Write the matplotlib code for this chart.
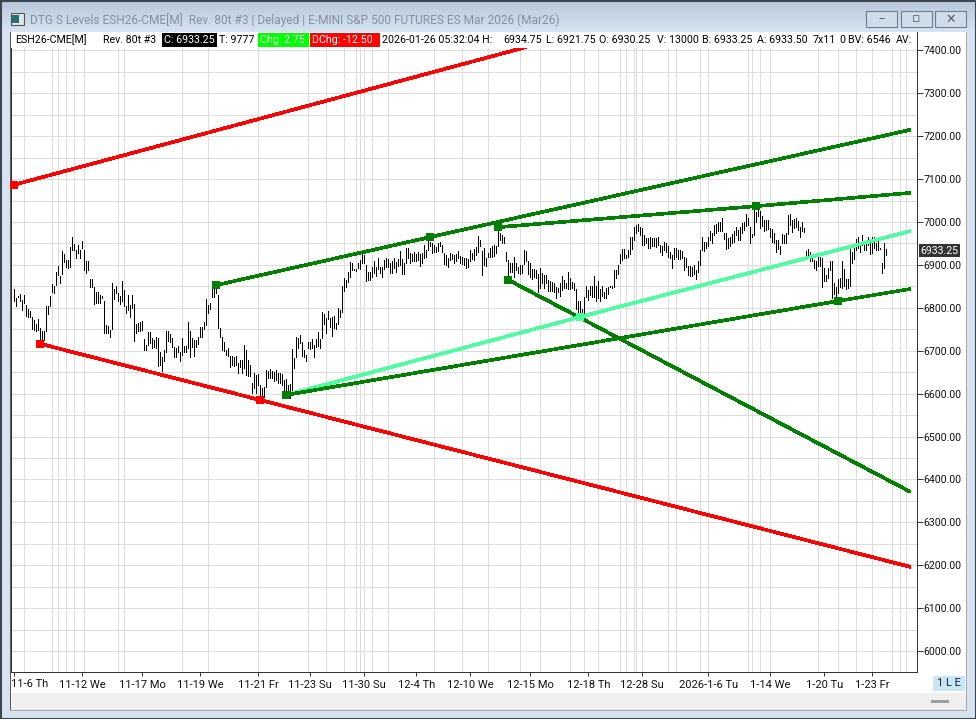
# Rebuild of the DTG S Levels ESH26 80 tick reversal chart, with its window frame.
import numpy as np
import matplotlib
matplotlib.use('Agg')
import matplotlib.pyplot as plt
from matplotlib.patches import Rectangle

plt.rcParams['font.family'] = ['Roboto', 'DejaVu Sans']

# bar highs and lows, left to right
highs_a = [6844,6823,6828,6832,6819,6830,6807,6797,6792,6778,6771,6763,6774,6753,6745,6747,6805,6805,6827,6856,6851,6883,6898,6875,6933,6926,6912,6912,6942,6965,6949,6935,6947,6935,6956,6935,6910,6910,6868,6868,6848,6838,6838,6829,6828,6816,6760,6757,6749,6859,6844,6851,6834,6828,6863,6842,6805,6829,6807,6830,6809,6763,6764,6768,6770,6728,6714,6743,6743,6729,6725,6733,6729]
lows_a = [6817,6805,6825,6817,6794,6811,6780,6778,6778,6750,6749,6745,6749,6726,6726,6726,6745,6786,6805,6838,6834,6854,6877,6858,6879,6907,6895,6893,6895,6934,6935,6916,6928,6917,6939,6889,6881,6889,6848,6848,6809,6811,6811,6811,6824,6741,6741,6741,6731,6751,6820,6834,6817,6809,6816,6805,6788,6795,6778,6799,6722,6741,6747,6747,6749,6701,6701,6714,6718,6706,6708,6706,6665]
highs_b = [6698,6686,6702,6746,6745,6739,6729,6708,6706,6710,6696,6729,6711,6710,6768,6745,6729,6724,6725,6733,6755,6755,6766,6820,6807,6811,6846,6850,6853,6830,6752,6733,6720,6702,6706,6688,6688,6685,6688,6671,6679,6679,6713,6702,6679,6667,6624,6649,6643,6646,6620,6612,6616,6655,6653,6657,6653,6651,6655,6649,6647,6646,6632,6633,6620,6622,6704,6682,6733,6730,6737,6721,6702,6690,6721]
lows_b = [6667,6653,6675,6698,6723,6721,6708,6685,6685,6698,6675,6690,6698,6696,6706,6685,6708,6688,6708,6716,6733,6733,6750,6760,6787,6797,6826,6826,6834,6752,6733,6702,6700,6690,6688,6661,6667,6665,6667,6647,6663,6649,6659,6643,6640,6640,6602,6612,6602,6620,6595,6589,6593,6615,6636,6636,6636,6630,6632,6624,6624,6620,6607,6607,6597,6589,6607,6659,6685,6706,6719,6688,6685,6675,6706]
highs_c = [6721,6727,6713,6727,6743,6727,6790,6786,6776,6793,6776,6778,6781,6764,6799,6795,6851,6869,6865,6884,6906,6904,6891,6890,6904,6912,6926,6923,6900,6884,6884,6894,6908,6896,6917,6895,6895,6912,6916,6913,6904,6910,6916,6906,6914,6933,6913,6904,6939,6939,6927,6926,6931,6926,6931,6926,6927,6947,6935,6958,6954,6950,6947]
lows_c = [6703,6706,6686,6708,6711,6707,6729,6762,6742,6773,6756,6735,6752,6750,6762,6778,6791,6840,6849,6861,6871,6887,6887,6885,6892,6890,6904,6904,6863,6865,6865,6873,6882,6874,6890,6881,6871,6890,6896,6895,6882,6881,6892,6884,6898,6900,6879,6879,6904,6916,6904,6908,6909,6908,6912,6898,6905,6916,6919,6935,6943,6927,6929]
highs_d = [6941,6952,6954,6947,6927,6922,6916,6927,6925,6922,6926,6933,6921,6918,6916,6917,6913,6935,6927,6937,6941,6968,6957,6933,6939,6916,6927,6939,6944,6947,6943,6978,6975,6970,6966,6931,6912,6904,6904,6918,6904,6896,6900,6900,6935,6933,6908,6904,6891,6890,6888,6879,6892,6881,6877,6877,6865,6863,6861,6859,6849,6846,6857,6874,6865,6857,6883,6869,6861,6857,6844,6816,6815,6797,6825,6851,6842,6850,6850,6874,6850,6863,6843,6851,6838]
lows_d = [6929,6933,6943,6929,6901,6900,6895,6912,6913,6905,6908,6916,6904,6902,6900,6892,6896,6908,6913,6912,6923,6929,6943,6877,6900,6898,6918,6918,6919,6921,6927,6944,6958,6950,6950,6910,6867,6884,6884,6873,6888,6881,6879,6881,6902,6908,6879,6871,6867,6873,6869,6836,6846,6857,6846,6857,6840,6839,6840,6838,6822,6838,6828,6842,6847,6846,6843,6843,6846,6842,6797,6791,6783,6785,6787,6825,6818,6830,6826,6826,6817,6822,6817,6828,6822]
highs_e = [6846,6849,6851,6851,6888,6888,6900,6925,6937,6937,6923,6935,6964,6964,6989,6993,6996,6989,6985,6970,6962,6962,6964,6962,6962,6962,6964,6947,6943,6954,6951,6943,6931,6922,6939,6939,6935,6935,6933,6919,6916,6898,6898,6896,6900,6888,6910,6935,6964,6954,6954,6966,6978,6974,6993,6996,6999,6999,7009,6974,6975,6962,6966,6971,6978,6989,6982,6989,6997,7001,7019,7009,6989,6971,7028,7024,7028]
lows_e = [6822,6832,6848,6847,6848,6869,6879,6904,6912,6917,6916,6919,6926,6936,6957,6974,6978,6970,6947,6947,6951,6939,6939,6943,6943,6941,6947,6929,6923,6935,6931,6919,6916,6892,6913,6918,6913,6913,6916,6888,6896,6877,6874,6874,6879,6867,6884,6900,6935,6933,6939,6943,6957,6950,6970,6974,6978,6978,6978,6960,6937,6939,6945,6950,6954,6970,6957,6958,6975,6982,6991,6993,6950,6966,6970,7001,7014]
highs_f = [7026,7013,7005,7005,7005,6985,6983,6974,6958,6958,6943,6971,6970,6974,7017,7019,7005,7006,7009,7003,6988,6999,6985,6933,6937,6929,6926,6912,6910,6918,6919,6916,6892,6877,6892,6908,6908,6857,6849,6867,6869,6910,6890,6867,6867,6947,6929,6939,6960,6966,6947,6970,6947,6954,6964,6951,6964,6966,6952,6960,6940,6905,6952,6936]
lows_f = [6985,6991,6980,6982,6983,6964,6954,6952,6929,6937,6926,6950,6950,6952,6971,6993,6976,6985,6989,6982,6964,6978,6976,6918,6918,6908,6908,6892,6888,6898,6898,6848,6863,6863,6869,6887,6822,6832,6824,6834,6848,6846,6851,6843,6846,6851,6904,6913,6935,6939,6929,6947,6935,6935,6947,6926,6927,6939,6935,6935,6936,6882,6892,6923]
bar_highs = highs_a + highs_b + highs_c + highs_d + highs_e + highs_f
bar_lows = lows_a + lows_b + lows_c + lows_d + lows_e + lows_f

# drawn levels as (bar number, price); last point of each is the free end
red_top_x = [0, 256]
red_top_y = [7087, 7408]
red_low_x = [13, 123, 448]
red_low_y = [6716, 6585, 6196]
green_a_x = [101, 208, 448]
green_a_y = [6853, 6965, 7215]
green_b_x = [242, 371, 448]
green_b_y = [6988, 7037, 7068]
mint_x = [136, 283, 448]
mint_y = [6597, 6779, 6979]
green_c_x = [136, 412, 448]
green_c_y = [6597, 6816, 6844]
green_d_x = [247, 448]
green_d_y = [6865, 6371]

price_ticks = list(range(6000, 7401, 100))
grid_prices = list(range(5950, 7451, 50))
date_ticks = [0, 34, 64, 93, 122, 148, 175, 201, 228, 258, 287, 314, 347, 378, 405, 429]
date_labels = ['11-6 Th', '11-12 We', '11-17 Mo', '11-19 We', '11-21 Fr', '11-23 Su', '11-30 Su', '12-4 Th',
               '12-10 We', '12-15 Mo', '12-18 Th', '12-28 Su', '2026-1-6 Tu', '1-14 We', '1-20 Tu', '1-23 Fr']
day_breaks = [5, 19, 22, 26, 30, 35, 52, 55, 84, 97, 122, 147, 156, 165, 171, 173, 175, 179, 187, 210, 224, 237,
              253, 263, 278, 285, 292, 303, 306, 310, 311, 314, 327, 331, 343, 347, 367, 369, 373, 378, 402, 412,
              421, 429, 439, 443, 446]
last_price = 6933.25

W, H = 976, 719
RED = '#ff0000'
GREEN = '#007f00'
MINT = '#4dff9e'
GRID = '#dcdcdc'
px = 72 / 100

fig = plt.figure(figsize=(W / 100, H / 100), dpi=100)

# window frame, in pixels
bg = fig.add_axes([0, 0, 1, 1], zorder=0)
bg.set_xlim(0, W)
bg.set_ylim(H, 0)
bg.axis('off')
bg.imshow(np.linspace(0, 1, 64).reshape(-1, 1), extent=(0, W, 32, 0), aspect='auto',
          cmap=matplotlib.colors.LinearSegmentedColormap.from_list('bar', ['#b6c7d9', '#d6e4f2']))
bg.set_xlim(0, W)
bg.set_ylim(H, 0)
bg.add_patch(Rectangle((0, 32), W, H - 32, color='#d6e4f2', lw=0))
bg.add_patch(Rectangle((10, 32), 956, 661, color='white', lw=0))
bg.add_patch(Rectangle((10, 693), 956, 17, color='#efefef', lw=0))
bg.add_patch(Rectangle((933, 676), 31.5, 15, color='#c8e6f5', lw=0))
bg.add_patch(Rectangle((931, 700), 18, 3, color='#a0a0a0', lw=0))
bg.add_patch(Rectangle((0.5, 0.5), W - 1, H - 1, fill=False, ec='#3c4650', lw=1.5))
bg.add_patch(Rectangle((9.5, 32), 1, 678, color='#5a5a5a', lw=0))
bg.add_patch(Rectangle((9.5, 709.5), 957, 1, color='#a8a8a8', lw=0))
bg.add_patch(Rectangle((965.5, 32), 1, 678, color='#a8a8a8', lw=0))
bg.text(30, 20, 'DTG S Levels ESH26-CME[M]  Rev. 80t #3 | Delayed | E-MINI S&P 500 FUTURES ES Mar 2026 (Mar26)',
        fontsize=8.6, color='#84919e', va='center', ha='left')
bg.add_patch(Rectangle((11, 13), 13, 12, fc='#dfe7ec', ec='#555555', lw=0.8))
bg.add_patch(Rectangle((12, 15), 7, 8, color='#2e6d6d', lw=0))
for bx, glyph in zip([866, 901, 935], ['–', '▫', '✕']):
    bg.add_patch(Rectangle((bx, 11), 31, 16, fc='#cfdcea', ec='#6f7f90', lw=0.8))
    bg.text(bx + 15.5, 19, glyph, fontsize=9, color='#55606b', ha='center', va='center',
            family=['DejaVu Sans'])
bg.text(949, 683.5, '1 L E', fontsize=8, color='#222222', ha='center', va='center')

# the chart itself
ax = fig.add_axes([11 / W, 1 - 672 / H, 906 / W, 640 / H], zorder=1)
ax.patch.set_alpha(0)
ax.set_xlim(-1.65, 451.35)
ax.set_ylim(5951, 7443)
for b in day_breaks:
    ax.axvline(b, color=GRID, lw=1 * px, zorder=1)
for p in grid_prices:
    ax.axhline(p, color=GRID, lw=1 * px, zorder=1)

bar_x = np.arange(len(bar_highs))
ax.vlines(bar_x, bar_lows, bar_highs, color='black', lw=1 * px, antialiased=False, zorder=2)


def level(xs, ys, color, marks=True):
    ax.plot(xs, ys, color=color, lw=2.6 * px, solid_capstyle='butt', antialiased=False, zorder=3)
    if marks:
        ax.plot(xs[:-1], ys[:-1], ls='none', marker='s', ms=8.5 * px, color=color, mew=0,
                antialiased=False, zorder=4, clip_on=False)


level(red_top_x, red_top_y, RED)
level(red_low_x, red_low_y, RED)
level(green_d_x, green_d_y, GREEN)
level(mint_x, mint_y, MINT, marks=False)
ax.plot(mint_x[1], mint_y[1], marker='s', ms=8.5 * px, color=MINT, mew=0, antialiased=False, zorder=5)
level(green_c_x, green_c_y, GREEN)
level(green_a_x, green_a_y, GREEN)
level(green_b_x, green_b_y, GREEN)

ax.spines['top'].set_visible(False)
for side in ['left', 'right', 'bottom']:
    ax.spines[side].set_color('#333333')
    ax.spines[side].set_linewidth(1 * px)
ax.yaxis.tick_right()
ax.set_yticks(price_ticks)
ax.set_yticklabels([f'{p:.2f}' for p in price_ticks], fontsize=7.6, color='#111111')
ax.tick_params(axis='y', length=4, width=0.7, pad=0.6, color='#333333')
ax.set_xticks(date_ticks)
# first date sits flush with the chart's left edge, the rest centre on their ticks
ax.set_xticklabels([''] + date_labels[1:], fontsize=8, color='#111111')
ax.tick_params(axis='x', length=3, width=0.7, pad=3, color='#333333')
ax.annotate(date_labels[0], xy=(0, 0), xycoords='axes fraction', xytext=(0, -8.5), textcoords='offset points',
            fontsize=8, color='#111111', ha='left', va='center', annotation_clip=False)
ax.text(1.0035, last_price, f'{last_price:.2f}', transform=ax.get_yaxis_transform(), fontsize=7.6, color='white',
        va='center', ha='left', zorder=6, clip_on=False,
        bbox=dict(boxstyle='square,pad=0.14', fc='#333333', ec='none'))

# status strip over the top of the chart
top = fig.add_axes([0, 0, 1, 1], zorder=2)
top.set_xlim(0, W)
top.set_ylim(H, 0)
top.axis('off')
top.add_patch(Rectangle((11, 32), 905.5, 16, color='white', lw=0))
top.add_patch(Rectangle((162, 33), 55, 14, color='black', lw=0))
top.add_patch(Rectangle((258, 33), 51, 14, color='#00ff00', lw=0))
top.add_patch(Rectangle((310, 33), 70, 14, color=RED, lw=0))
strip = [(15, 'ESH26-CME[M]', 'black'), (103, 'Rev. 80t #3', 'black'), (164, 'C: 6933.25', 'white'),
         (219, 'T: 9777', 'black'), (260, 'Chg: 2.75', 'white'), (312, 'DChg: -12.50', 'white'),
         (382, '2026-01-26 05:32:04 H:', 'black'), (503, '6934.75', 'black'), (546, 'L: 6921.75', 'black'),
         (599, 'O: 6930.25', 'black'), (657, 'V: 13000', 'black'), (702, 'B: 6933.25', 'black'),
         (757, 'A: 6933.50', 'black'), (813, '7x11', 'black'), (839, '0', 'black'), (848, 'BV: 6546', 'black'),
         (896, 'AV:', 'black')]
for sx, s, c in strip:
    top.text(sx, 40, s, fontsize=7.7, color=c, va='center', ha='left')

fig.savefig('out.png', dpi=100)
